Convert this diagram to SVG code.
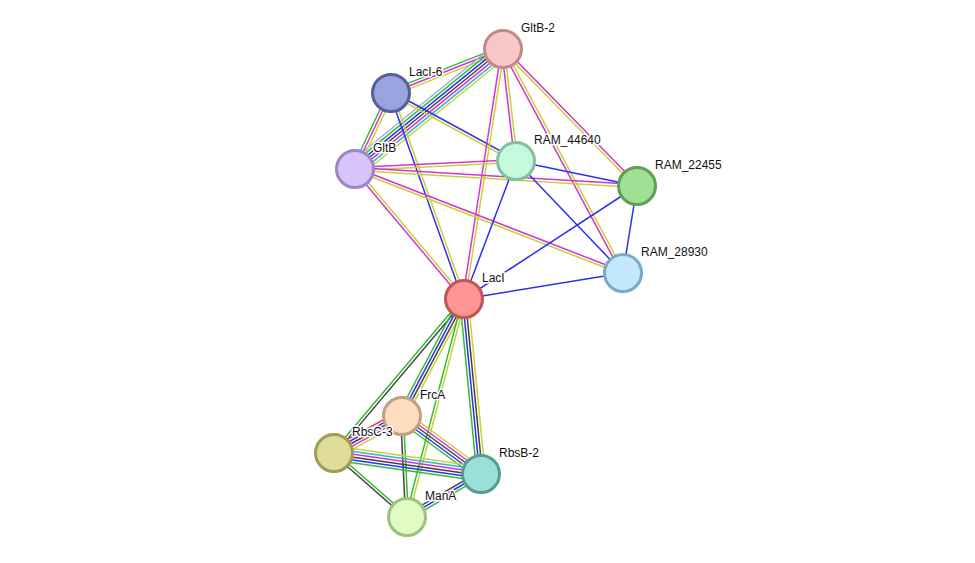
<svg xmlns="http://www.w3.org/2000/svg" width="975" height="563" viewBox="0 0 975 563">
<style>
line{stroke-width:1.5;fill:none}
.G{stroke:#33bb33}.R{stroke:#ff2a2a}.B{stroke:#2f2ff0}.K{stroke:#444}.M{stroke:#d633d6}.C{stroke:#33b5d8}.Y{stroke:#c4d434}.H{stroke:#a4a8f0}
circle{stroke-width:3}
text{font-family:"Liberation Sans",Arial,sans-serif;font-size:12px;fill:#111;stroke:#fff;stroke-width:3;stroke-linejoin:round;paint-order:stroke}
</style>
<rect width="975" height="563" fill="#fff"/>
<g id="edges">
<g transform="translate(503 49) rotate(158.55)"><line class="G" x2="120.3" y1="2.8" y2="2.8"/><line class="M" x2="120.3"/><line class="Y" x2="120.3" y1="-2.8" y2="-2.8"/></g>
<g transform="translate(503 49) rotate(140.96)"><line class="H" x2="190.5" y1="8.4" y2="8.4"/><line class="G" x2="190.5" y1="5.6" y2="5.6"/><line class="B" x2="190.5" y1="2.8" y2="2.8"/><line class="K" x2="190.5"/><line class="M" x2="190.5" y1="-2.8" y2="-2.8"/><line class="C" x2="190.5" y1="-5.6" y2="-5.6"/><line class="Y" x2="190.5" y1="-8.4" y2="-8.4"/></g>
<g transform="translate(391 93) rotate(115.35)"><line class="G" x2="84.1" y1="2.8" y2="2.8"/><line class="M" x2="84.1"/><line class="Y" x2="84.1" y1="-2.8" y2="-2.8"/></g>
<g transform="translate(391 93) rotate(28.55)"><line class="B" x2="142.3" y1="-1.4" y2="-1.4"/><line class="Y" x2="142.3" y1="1.4" y2="1.4"/></g>
<g transform="translate(391 93) rotate(70.49)"><line class="B" x2="218.6" y1="1.4" y2="1.4"/><line class="Y" x2="218.6" y1="-1.4" y2="-1.4"/></g>
<g transform="translate(503 49) rotate(83.38)"><line class="M" x2="112.8" y1="1.4" y2="1.4"/><line class="Y" x2="112.8" y1="-1.4" y2="-1.4"/></g>
<g transform="translate(503 49) rotate(98.87)"><line class="M" x2="253" y1="1.4" y2="1.4"/><line class="Y" x2="253" y1="-1.4" y2="-1.4"/></g>
<g transform="translate(503 49) rotate(45.63)"><line class="M" x2="191.6" y1="-1.4" y2="-1.4"/><line class="Y" x2="191.6" y1="1.4" y2="1.4"/></g>
<g transform="translate(503 49) rotate(61.82)"><line class="M" x2="254.1" y1="1.4" y2="1.4"/><line class="Y" x2="254.1" y1="-1.4" y2="-1.4"/></g>
<g transform="translate(355 169) rotate(-2.84)"><line class="M" x2="161.2" y1="-1.4" y2="-1.4"/><line class="Y" x2="161.2" y1="1.4" y2="1.4"/></g>
<g transform="translate(355 169) rotate(3.45)"><line class="M" x2="282.5" y1="-1.4" y2="-1.4"/><line class="Y" x2="282.5" y1="1.4" y2="1.4"/></g>
<g transform="translate(355 169) rotate(21.21)"><line class="M" x2="287.5" y1="-1.4" y2="-1.4"/><line class="Y" x2="287.5" y1="1.4" y2="1.4"/></g>
<g transform="translate(355 169) rotate(50.02)"><line class="M" x2="169.7" y1="1.4" y2="1.4"/><line class="Y" x2="169.7" y1="-1.4" y2="-1.4"/></g>
<line class="B" x1="516" y1="161" x2="637" y2="186"/>
<line class="B" x1="516" y1="161" x2="623" y2="273"/>
<line class="B" x1="516" y1="161" x2="464" y2="299"/>
<line class="B" x1="637" y1="186" x2="464" y2="299"/>
<line class="B" x1="637" y1="186" x2="623" y2="273"/>
<line class="B" x1="623" y1="273" x2="464" y2="299"/>
<g transform="translate(464 299) rotate(130.17)"><line class="G" x2="201.5" y1="1.4" y2="1.4"/><line class="K" x2="201.5" y1="-1.4" y2="-1.4"/></g>
<g transform="translate(464 299) rotate(117.92)"><line class="G" x2="132.4" y1="4.2" y2="4.2"/><line class="B" x2="132.4" y1="1.4" y2="1.4"/><line class="K" x2="132.4" y1="-1.4" y2="-1.4"/><line class="Y" x2="132.4" y1="-4.2" y2="-4.2"/></g>
<g transform="translate(464 299) rotate(104.65)"><line class="G" x2="225.3" y1="1.4" y2="1.4"/><line class="Y" x2="225.3" y1="-1.4" y2="-1.4"/></g>
<g transform="translate(464 299) rotate(84.45)"><line class="G" x2="175.8" y1="4.2" y2="4.2"/><line class="B" x2="175.8" y1="1.4" y2="1.4"/><line class="K" x2="175.8" y1="-1.4" y2="-1.4"/><line class="Y" x2="175.8" y1="-4.2" y2="-4.2"/></g>
<g transform="translate(402 416) rotate(151.45)"><line class="R" x2="77.4" y1="5.6" y2="5.6"/><line class="B" x2="77.4" y1="2.8" y2="2.8"/><line class="K" x2="77.4"/><line class="M" x2="77.4" y1="-2.8" y2="-2.8"/><line class="Y" x2="77.4" y1="-5.6" y2="-5.6"/></g>
<g transform="translate(402 416) rotate(36.29)"><line class="Y" x2="98" y1="-5.6" y2="-5.6"/><line class="M" x2="98" y1="-2.8" y2="-2.8"/><line class="K" x2="98"/><line class="B" x2="98" y1="2.8" y2="2.8"/><line class="G" x2="98" y1="5.6" y2="5.6"/></g>
<g transform="translate(402 416) rotate(87.17)"><line class="K" x2="101.1" y1="1.4" y2="1.4"/><line class="G" x2="101.1" y1="-1.4" y2="-1.4"/></g>
<g transform="translate(334 453) rotate(8.13)"><line class="Y" x2="148.5" y1="-7" y2="-7"/><line class="C" x2="148.5" y1="-4.2" y2="-4.2"/><line class="M" x2="148.5" y1="-1.4" y2="-1.4"/><line class="K" x2="148.5" y1="1.4" y2="1.4"/><line class="B" x2="148.5" y1="4.2" y2="4.2"/><line class="G" x2="148.5" y1="7" y2="7"/></g>
<g transform="translate(334 453) rotate(41.24)"><line class="G" x2="97.1" y1="-1.4" y2="-1.4"/><line class="K" x2="97.1" y1="1.4" y2="1.4"/></g>
<g transform="translate(407 517) rotate(-30.16)"><line class="K" x2="85.6" y1="-2.8" y2="-2.8"/><line class="B" x2="85.6"/><line class="G" x2="85.6" y1="2.8" y2="2.8"/></g>
</g>
<g id="GltB-2"><circle cx="503" cy="49" r="18.5" fill="#f8c8c8" stroke="#c08a8a"/><text x="521" y="32">GltB-2</text></g>
<g id="LacI-6"><circle cx="391" cy="93" r="18.5" fill="#99a3de" stroke="#56609c"/><text x="409" y="76">LacI-6</text></g>
<g id="GltB"><circle cx="355" cy="169" r="18.5" fill="#d6c4fa" stroke="#9a88c8"/><text x="373" y="152">GltB</text></g>
<g id="RAM_44640"><circle cx="516" cy="161" r="18.5" fill="#c4f9dc" stroke="#84c0a0"/><text x="534" y="144">RAM_44640</text></g>
<g id="RAM_22455"><circle cx="637" cy="186" r="18.5" fill="#a0df94" stroke="#5fa056"/><text x="655" y="169">RAM_22455</text></g>
<g id="RAM_28930"><circle cx="623" cy="273" r="18.5" fill="#c4e8fc" stroke="#7ea8c4"/><text x="641" y="256">RAM_28930</text></g>
<g id="LacI"><circle cx="464" cy="299" r="18.5" fill="#ff9494" stroke="#c05656"/><text x="482" y="282">LacI</text></g>
<g id="FrcA"><circle cx="402" cy="416" r="18.5" fill="#fddcc0" stroke="#c0a080"/><text x="420" y="399">FrcA</text></g>
<g id="RbsC-3"><circle cx="334" cy="453" r="18.5" fill="#dedc98" stroke="#a09c58"/><text x="352" y="436">RbsC-3</text></g>
<g id="RbsB-2"><circle cx="481" cy="474" r="18.5" fill="#98e0d8" stroke="#589c96"/><text x="499" y="457">RbsB-2</text></g>
<g id="ManA"><circle cx="407" cy="517" r="18.5" fill="#e0fcc4" stroke="#a0c080"/><text x="425" y="500">ManA</text></g>
</svg>
